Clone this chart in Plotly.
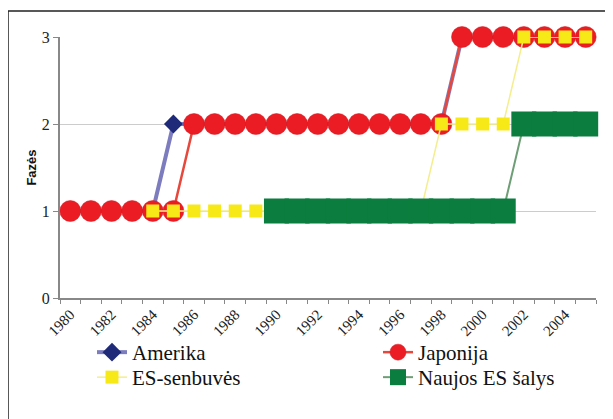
import plotly.graph_objects as go

years = list(range(1980, 2006))
amerika = [1]*5 + [2]*14 + [3]*7
japonija = [1]*6 + [2]*13 + [3]*7
es_senbuves = [None]*4 + [1]*14 + [2]*4 + [3]*4
naujos_es = [None]*10 + [1]*12 + [2]*4
tick_years = list(range(1980, 2005, 2))
tick_labels = [str(y) for y in tick_years]
y_ticks = [0, 1, 2, 3]

SERIF = "Times New Roman"
SANS = "Arial"

OFF = 8  # page body margin
W, H = 613 - OFF, 419 - OFF
# plot area in reference pixels: x 60..596, y 37..298
ml, mt = 60 - OFF, 37 - OFF
mr, mb = W - (596 - OFF), H - (298 - OFF)
pw, ph = W - ml - mr, H - mt - mb

def px_x(p):
    return (p - OFF - ml) / pw

def px_y(p):
    return (H - mb - (p - OFF)) / ph

fig = go.Figure()
fig.add_trace(go.Scatter(x=years, y=amerika, name="Amerika", mode="lines+markers",
                         line=dict(color="#7c7cbf", width=4),
                         marker=dict(symbol="diamond", size=14.5, color="#1f2a78"),
                         cliponaxis=False, legend="legend"))
fig.add_trace(go.Scatter(x=years, y=japonija, name="Japonija", mode="lines+markers",
                         line=dict(color="#e8483c", width=2.5),
                         marker=dict(symbol="circle", size=21, color="#ec1c24",
                                     line=dict(color="#d01820", width=0.5)),
                         cliponaxis=False, legend="legend2"))
fig.add_trace(go.Scatter(x=years, y=es_senbuves, name="ES-senbuvės", mode="lines+markers",
                         line=dict(color="#f4ee8e", width=1.5),
                         marker=dict(symbol="square", size=13, color="#f7e918"),
                         cliponaxis=False, legend="legend3"))
fig.add_trace(go.Scatter(x=years, y=naujos_es, name="Naujos ES šalys", mode="lines+markers",
                         line=dict(color="#6e9e76", width=2),
                         marker=dict(symbol="square", size=25, color="#0b7d3e"),
                         cliponaxis=False, legend="legend4"))

fig.add_shape(type="rect", xref="paper", yref="paper",
              x0=px_x(8), x1=px_x(612), y0=px_y(440), y1=px_y(11),
              line=dict(color="#222222", width=1.5), layer="below")

legend_common = dict(orientation="v", xanchor="left", yanchor="top",
                     font=dict(family=SERIF, size=21, color="#111111"),
                     bgcolor="rgba(0,0,0,0)")

fig.update_layout(
    width=W, height=H,
    margin=dict(l=ml, r=mr, t=mt, b=mb, autoexpand=False),
    paper_bgcolor="white", plot_bgcolor="white",
    font=dict(family=SERIF, color="#222222"),
    showlegend=True,
    legend=dict(x=px_x(92), y=px_y(332), **legend_common),
    legend2=dict(x=px_x(378), y=px_y(332), **legend_common),
    legend3=dict(x=px_x(92), y=px_y(357), **legend_common),
    legend4=dict(x=px_x(378), y=px_y(357), **legend_common),
    xaxis=dict(range=[1979.5, 2005.5], tickmode="array", tickvals=tick_years,
               ticktext=tick_labels, tickangle=-45, ticks="", showgrid=False,
               showline=True, linecolor="#888888", linewidth=2, zeroline=False,
               tickfont=dict(family=SERIF, size=15, color="#222222"),
               minor=dict(tick0=1979.5, dtick=1, ticks="outside", ticklen=4,
                          tickcolor="#888888", showgrid=False)),
    yaxis=dict(range=[0, 3], tickmode="array", tickvals=y_ticks, ticks="outside",
               ticklen=5, tickcolor="#888888", showline=True, linecolor="#888888",
               linewidth=2, showgrid=True, gridcolor="#cccccc", gridwidth=1,
               zeroline=False,
               tickfont=dict(family=SERIF, size=16, color="#222222"),
               title=dict(text="<b>Fazės</b>", standoff=2,
                          font=dict(family=SANS, size=13, color="#111111"))),
)

fig.write_html("out.html")
